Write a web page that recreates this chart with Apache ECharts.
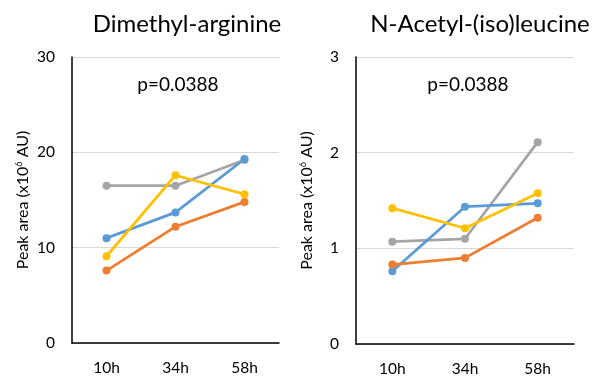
<!DOCTYPE html>
<html>
<head>
<meta charset="utf-8">
<script src="https://cdn.jsdelivr.net/npm/echarts@6/dist/echarts.min.js"></script>
<style>
  html, body { margin: 0; padding: 0; background: #fff; }
  #chart { width: 596px; height: 385px; }
</style>
</head>
<body>
<div id="chart"></div>
<script>
const categories = ["10h", "34h", "58h"];
const seriesColors = ["#5B9BD5", "#ED7D31", "#A5A5A5", "#FFC000"];

// Dimethyl-arginine (x10^6 AU)
const dmaBlue = [11.0, 13.7, 19.3];
const dmaOrange = [7.6, 12.2, 14.8];
const dmaGray = [16.5, 16.5, 19.2];
const dmaYellow = [9.1, 17.6, 15.6];

// N-Acetyl-(iso)leucine (x10^6 AU)
const nalBlue = [0.76, 1.435, 1.47];
const nalOrange = [0.83, 0.90, 1.32];
const nalGray = [1.07, 1.10, 2.11];
const nalYellow = [1.42, 1.21, 1.575];

const titles = ["Dimethyl-arginine", "N-Acetyl-(iso)leucine"];
const pValues = ["p=0.0388", "p=0.0388"];

const font = "Lato, 'Open Sans', sans-serif";
const chart = echarts.init(document.getElementById("chart"));

const makeX = (gridIndex) => ({
  type: "category",
  gridIndex,
  data: categories,
  axisLine: { lineStyle: { color: "#000", width: 1.5 } },
  axisTick: { show: false },
  axisLabel: { color: "#000", fontSize: 15.5, fontFamily: font, margin: 17 }
});

const makeY = (gridIndex, max, interval) => ({
  type: "value",
  gridIndex,
  min: 0,
  max,
  interval,
  name: "Peak area (x10{sup|6} AU)",
  nameLocation: "middle",
  nameGap: 41,
  nameTextStyle: {
    color: "#000", fontSize: 16, fontFamily: font,
    rich: { sup: { fontSize: 9, verticalAlign: "top", fontFamily: font, color: "#000", padding: [0, 0, 7, 0] } }
  },
  axisLine: { show: true, lineStyle: { color: "#000", width: 1.5 } },
  axisTick: { show: false },
  axisLabel: { color: "#000", fontSize: 15.5, fontFamily: font, margin: 17 },
  splitLine: { lineStyle: { color: "#D9D9D9", width: 1 } }
});

const makeSeries = (data, color, idx) => ({
  type: "line",
  xAxisIndex: idx,
  yAxisIndex: idx,
  data,
  symbol: "circle",
  symbolSize: 8,
  lineStyle: { color, width: 2.75 },
  itemStyle: { color },
  silent: true
});

chart.setOption({
  animation: false,
  title: [
    { text: titles[0], left: 182, top: 7, textAlign: "center",
      textStyle: { fontSize: 24, fontWeight: "normal", color: "#000", fontFamily: font } },
    { text: titles[1], left: 475, top: 7, textAlign: "center",
      textStyle: { fontSize: 24, fontWeight: "normal", color: "#000", fontFamily: font } },
    { text: pValues[0], left: 173, top: 70, textAlign: "center",
      textStyle: { fontSize: 19, fontWeight: "normal", color: "#000", fontFamily: font } },
    { text: pValues[1], left: 463, top: 70, textAlign: "center",
      textStyle: { fontSize: 19, fontWeight: "normal", color: "#000", fontFamily: font } }
  ],
  grid: [
    { left: 72, top: 57, width: 207, height: 286 },
    { left: 356, top: 57, width: 218, height: 287 }
  ],
  xAxis: [makeX(0), makeX(1)],
  yAxis: [makeY(0, 30, 10), makeY(1, 3, 1)],
  series: [
    makeSeries(dmaGray, seriesColors[2], 0),
    makeSeries(dmaBlue, seriesColors[0], 0),
    makeSeries(dmaOrange, seriesColors[1], 0),
    makeSeries(dmaYellow, seriesColors[3], 0),
    makeSeries(nalGray, seriesColors[2], 1),
    makeSeries(nalBlue, seriesColors[0], 1),
    makeSeries(nalOrange, seriesColors[1], 1),
    makeSeries(nalYellow, seriesColors[3], 1)
  ]
});
</script>
</body>
</html>
